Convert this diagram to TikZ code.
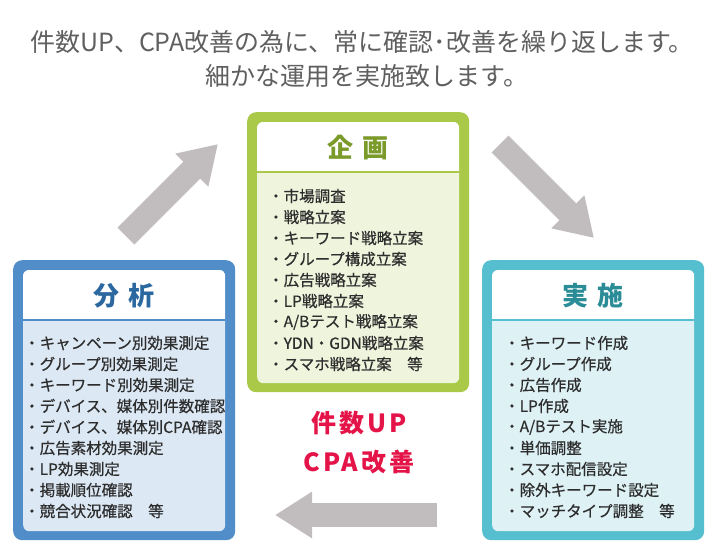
\documentclass[tikz,border=0pt]{standalone}
\usepackage{fontspec}
\setmainfont{Noto Sans CJK JP}
\usepackage{tikz}
\usetikzlibrary{positioning}
\usetikzlibrary{arrows.meta}
\definecolor{plangreen}{RGB}{170,201,72}
\definecolor{planpale}{RGB}{239,244,221}
\definecolor{plandark}{RGB}{122,154,42}
\definecolor{anablue}{RGB}{80,141,201}
\definecolor{anapale}{RGB}{220,232,244}
\definecolor{anadark}{RGB}{44,104,160}
\definecolor{actteal}{RGB}{86,191,207}
\definecolor{actpale}{RGB}{222,241,245}
\definecolor{actdark}{RGB}{42,140,150}
\definecolor{arrowgray}{RGB}{193,188,189}
\definecolor{itemgray}{RGB}{45,45,45}
\definecolor{leadgray}{RGB}{95,95,95}
\definecolor{goalred}{RGB}{228,20,72}
\tikzstyle{frame}=[rounded corners=9pt, minimum width=222pt,
                  minimum height=280pt, inner sep=0pt, anchor=north west]
\tikzstyle{sheet}=[rounded corners=6pt, minimum width=202pt,
                  minimum height=261pt, inner sep=0pt, anchor=north west]
\tikzstyle{heading}=[font=\fontsize{26}{30}\selectfont\bfseries]
\tikzstyle{item}=[anchor=west, inner sep=0pt, text=itemgray,
                  font=\fontsize{15.5}{18}\selectfont\addfontfeature{FakeBold=0.5}]
\tikzstyle{lead}=[text=leadgray, font=\fontsize{25}{28}\selectfont]
\tikzstyle{goal}=[text=goalred,
                  font=\fontsize{25}{28}\selectfont\bfseries\addfontfeature{LetterSpace=12}]
\tikzstyle{turnarrow}=[draw=arrowgray, line width=24pt,
                  -{Triangle[length=37pt,width=44pt]}]

\begin{document}
\begin{tikzpicture}[x=1pt, y=-1pt]
      \useasboundingbox (0,0) rectangle (720,557);
      % Lead text
      \node[lead] (lead1) at (362,42) {件数UP、CPA改善の為に、常に確認･改善を繰り返します。};
      \node[lead] (lead2) at (367,76) {細かな運用を実施致します。};
      %
      % Frames and sheets
      \foreach \place/\name/\col in {{(247,112)/plan/plangreen},
          {(13,260)/ana/anablue}, {(482,260)/act/actteal}}
        \node[frame, fill=\col] (\name) at \place {};
      \foreach \name/\pale in {plan/planpale, ana/anapale, act/actpale}
        \node[sheet, fill=\pale, below right=10pt and 10pt of \name.north west,
              anchor=north west] (\name-in) {};
      %
      % White heads with a rule below
      \foreach \name/\col in {plan/plangreen, ana/anablue, act/actteal} {
        \begin{scope}
          \clip[rounded corners=6pt] (\name-in.north west) rectangle (\name-in.south east);
          \fill[white] (\name-in.north west) rectangle ([yshift=-49pt]\name-in.north east);
        \end{scope}
        \draw[\col, line width=2.5pt] ([yshift=-50pt]\name-in.north west)
          -- ([yshift=-50pt]\name-in.north east);
      }
      \node[heading, text=plandark] (plan-head) at ([yshift=-26pt]plan-in.north) {企\hspace{9pt}画};
      \node[heading, text=anadark] (ana-head) at ([yshift=-26pt]ana-in.north) {分\hspace{9pt}析};
      \node[heading, text=actdark] (act-head) at ([yshift=-26pt]act-in.north) {実\hspace{9pt}施};
      %
      % Items
      \foreach \txt [count=\i] in {市場調査, 戦略立案, キーワード戦略立案, グループ構成立案,
          広告戦略立案, LP戦略立案, A/Bテスト戦略立案, YDN・GDN戦略立案, スマホ戦略立案　等}
        \node[item] (plan\i) at (268,{175+21*\i}) {・\txt};
      \foreach \txt [count=\i] in {キャンペーン別効果測定, グループ別効果測定, キーワード別効果測定,
          デバイス、媒体別件数確認, デバイス、媒体別CPA確認, 広告素材効果測定, LP効果測定,
          掲載順位確認, 競合状況確認　等}
        \node[item] (ana\i) at (24,{322+21*\i}) {・\txt};
      \foreach \txt [count=\i] in {キーワード作成, グループ作成, 広告作成, LP作成, A/Bテスト実施,
          単価調整, スマホ配信設定, 除外キーワード設定, マッチタイプ調整　等}
        \node[item] (act\i) at (504,{322+21*\i}) {・\txt};
      %
      % Goal text
      \node[goal] (goal1) at (359,423) {件数UP};
      \node[goal, below=39pt of goal1.center, anchor=center] (goal2) {CPA改善};
      %
      % Cycle arrows
      \coordinate (up-tail) at (126,236);
      \coordinate (up-tip) at (218,144);
      \coordinate (down-tail) at (500,144);
      \coordinate (down-tip) at (594,238);
      \coordinate (back-tail) at (437,515);
      \coordinate (back-tip) at (275,515);
      \foreach \source/\dest in {up-tail/up-tip, down-tail/down-tip, back-tail/back-tip}
        \draw[turnarrow] (\source) -- (\dest);
\end{tikzpicture}
\end{document}
